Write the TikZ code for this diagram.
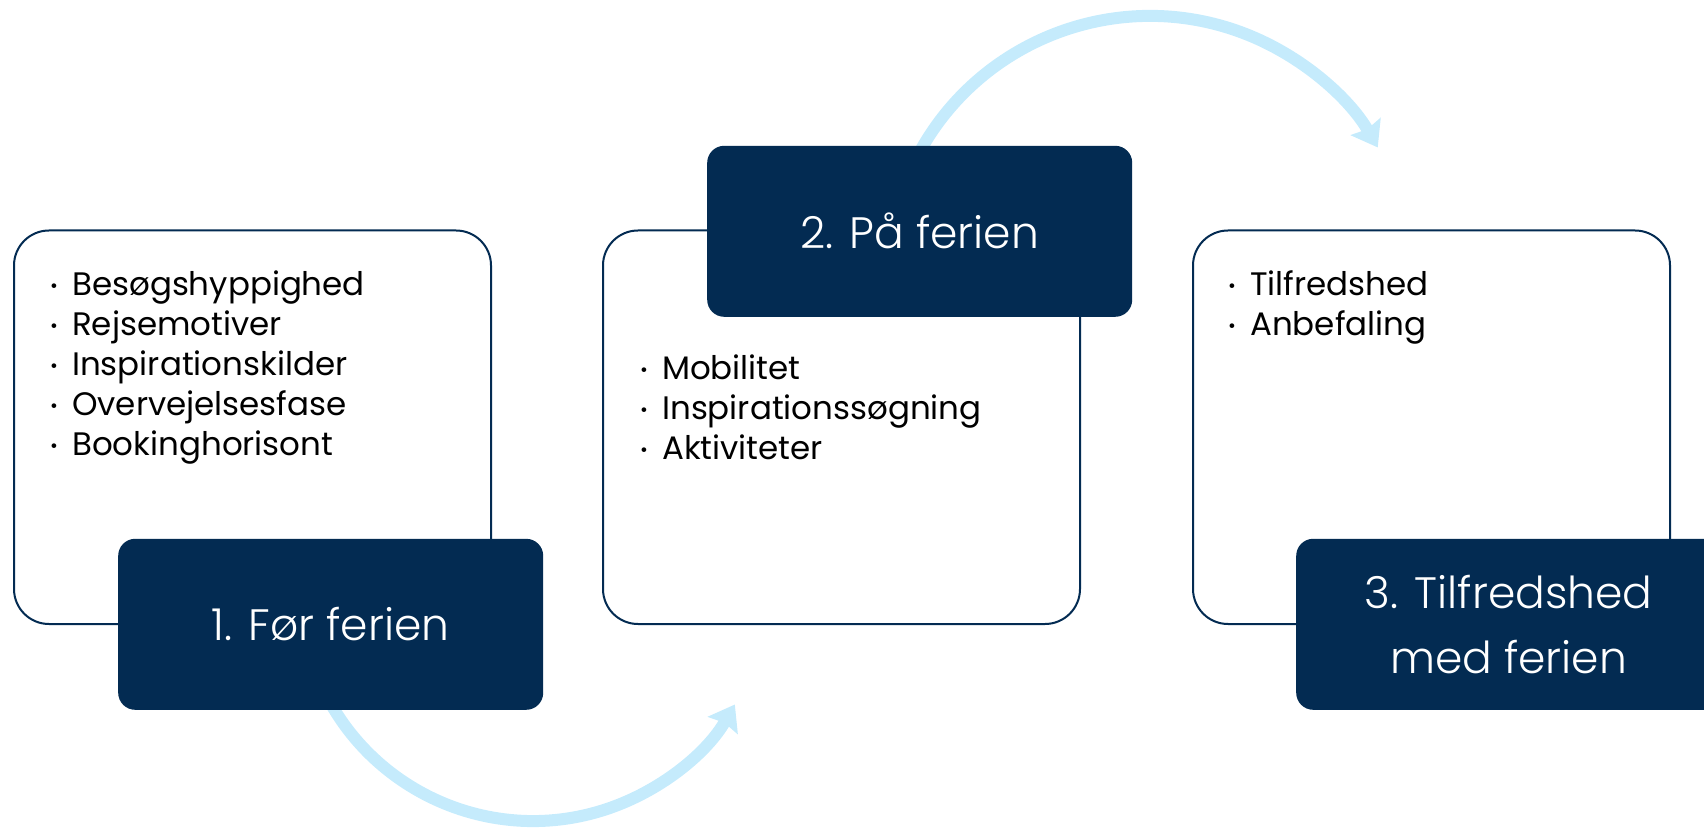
\documentclass[tikz,border=0pt]{standalone}
\usepackage{fontspec}
\setmainfont{Poppins}
\newfontfamily\titlefont{Poppins Light}
\usetikzlibrary{arrows.meta}
\definecolor{navy}{HTML}{032B52}
\definecolor{arcblue}{HTML}{C5EBFC}
\newcommand\bulmark{\makebox[22pt][l]{\raisebox{3.5pt}{\fontsize{19}{19}\selectfont •}}}
\begin{document}
\begin{tikzpicture}[x=1pt,y=1pt,
  card/.style={draw=navy, line width=2pt, rounded corners=35pt, fill=white,
    minimum width=477pt, minimum height=393.5pt, anchor=south west, inner sep=0pt},
  titlebox/.style={fill=navy, text=white, rounded corners=17pt, anchor=south west,
    minimum width=425pt, minimum height=171pt, inner sep=0pt, align=center,
    font=\titlefont\fontsize{44}{65}\selectfont},
  item/.style={anchor=base west, inner sep=0pt, text=black,
    font=\fontsize{32.5}{40}\selectfont},
  flow/.style={draw=arcblue, line width=12pt,
    -{Stealth[length=24pt, width=34pt, inset=3pt]}}]
\useasboundingbox (0,0) rectangle (1704,828);
% arcs
\coordinate (a1s) at (314.1,160.3);
\coordinate (a2s) at (911.6,660.2);
\draw[flow] (a1s) arc[start angle=200, end angle=330, radius=233pt] coordinate (a1e);
\draw[flow] (a2s) arc[start angle=155, end angle=30, radius=263pt] coordinate (a2e);
% white cards
\node[card] (w1) at (13,203) {};
\node[card] (w2) at (602,203) {};
\node[card] (w3) at (1192,203) {};
% title boxes
\node[titlebox] (d1) at (118,118) {1. Før ferien};
\node[titlebox] (d2) at (707,511) {2. På ferien};
\node[titlebox] (d3) at (1296,118) {3. Tilfredshed\\med ferien};
% bullets box 1
\node[item] (b1a) at (50,532) {\bulmark Besøgshyppighed};
\node[item] (b1b) at (50,492) {\bulmark Rejsemotiver};
\node[item] (b1c) at (50,452) {\bulmark Inspirationskilder};
\node[item] (b1d) at (50,412) {\bulmark Overvejelsesfase};
\node[item] (b1e) at (50,372) {\bulmark Bookinghorisont};
% bullets box 2
\node[item] (b2a) at (640,448) {\bulmark Mobilitet};
\node[item] (b2b) at (640,408) {\bulmark Inspirationssøgning};
\node[item] (b2c) at (640,368) {\bulmark Aktiviteter};
% bullets box 3
\node[item] (b3a) at (1228,532) {\bulmark Tilfredshed};
\node[item] (b3b) at (1228,492) {\bulmark Anbefaling};
\end{tikzpicture}
\end{document}
